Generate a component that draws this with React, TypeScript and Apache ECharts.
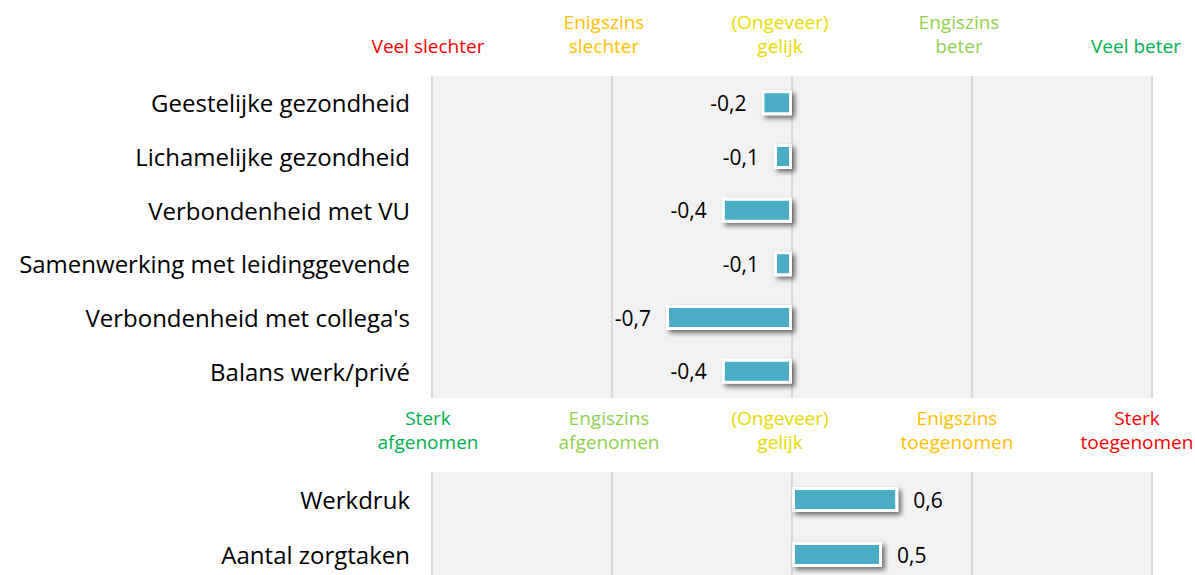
import React, { useEffect, useRef } from "react";
import * as echarts from "echarts";

const topCategories = [
  "Geestelijke gezondheid",
  "Lichamelijke gezondheid",
  "Verbondenheid met VU",
  "Samenwerking met leidinggevende",
  "Verbondenheid met collega's",
  "Balans werk/privé",
];
const topValues = [-0.17, -0.1, -0.39, -0.1, -0.7, -0.39];

const bottomCategories = ["Werkdruk", "Aantal zorgtaken"];
const bottomValues = [0.59, 0.5];

const topTickValues = [-2, -1, 0, 1, 2];
const topTickLabels = ["Veel slechter", "Enigszins\nslechter", "(Ongeveer)\ngelijk", "Engiszins\nbeter", "Veel beter"];
const topTickColors = ["#FF0000", "#FFC000", "#E6DC00", "#92D050", "#00B050"];
const topTickShift = [4, 8, 12, 13, 16];

const bottomTickLabels = ["Sterk\nafgenomen", "Engiszins\nafgenomen", "(Ongeveer)\ngelijk", "Enigszins\ntoegenomen", "Sterk\ntoegenomen"];
const bottomTickColors = ["#00B050", "#92D050", "#E6DC00", "#FFC000", "#FF0000"];
const bottomTickShift = [4, 3, 12, 15, 15];

const FONT = "'Open Sans', 'Noto Sans', sans-serif";

function makeAxisLabel(labels: string[], colors: string[], shifts: number[]) {
  const rich: Record<string, any> = {};
  labels.forEach((_, i) => {
    rich["t" + i] = {
      color: colors[i],
      fontSize: 19,
      lineHeight: 24,
      fontFamily: FONT,
      align: "center",
      padding: [0, shifts[i] * 2, 0, 0],
    };
  });
  return {
    show: true,
    margin: 18,
    fontFamily: FONT,
    fontSize: 19,
    lineHeight: 24,
    formatter: (v: number) => {
      const i = topTickValues.indexOf(v);
      if (i < 0) return "";
      return labels[i]
        .split("\n")
        .map((s) => "{t" + i + "|" + s + "}")
        .join("\n");
    },
    rich,
  };
}

const fmt = (v: number) => v.toFixed(1).replace(".", ",");

export default function App() {
  const ref = useRef<HTMLDivElement>(null);
  useEffect(() => {
    if (!ref.current) return;
    const chart = echarts.init(ref.current, null, { renderer: "svg" });
    const barStyle = {
      color: "#4BACC6",
      borderColor: "#FFFFFF",
      borderWidth: 3,
      shadowBlur: 5,
      shadowColor: "rgba(0,0,0,0.55)",
      shadowOffsetX: 3,
      shadowOffsetY: 3,
    };
    const xCommon = {
      type: "value" as const,
      min: -2,
      max: 2,
      interval: 1,
      position: "top" as const,
      axisLine: { show: false },
      axisTick: { show: false },
      splitLine: { show: true, lineStyle: { color: "#D9D9D9", width: 2 } },
    };
    const yCommon = {
      type: "category" as const,
      inverse: true,
      axisLine: { show: false },
      axisTick: { show: false },
      splitLine: { show: false },
      axisLabel: { color: "#000", fontSize: 24, fontFamily: FONT, margin: 22 },
    };
    const gridCommon = {
      left: 432,
      width: 720,
      show: true,
      backgroundColor: "#F2F2F2",
      borderWidth: 0,
      containLabel: false,
      outerBoundsMode: "none",
    };
    chart.setOption({
      animation: false,
      grid: [
        { ...gridCommon, top: 76, height: 322 },
        { ...gridCommon, top: 472, height: 110 },
      ],
      xAxis: [
        { ...xCommon, gridIndex: 0, axisLabel: makeAxisLabel(topTickLabels, topTickColors, topTickShift) },
        { ...xCommon, gridIndex: 1, axisLabel: makeAxisLabel(bottomTickLabels, bottomTickColors, bottomTickShift) },
      ],
      yAxis: [
        { ...yCommon, gridIndex: 0, data: topCategories },
        { ...yCommon, gridIndex: 1, data: bottomCategories },
      ],
      series: [
        {
          type: "bar",
          xAxisIndex: 0,
          yAxisIndex: 0,
          data: topValues,
          barWidth: 25,
          itemStyle: barStyle,
          label: {
            show: true,
            position: "left",
            distance: 15,
            color: "#000",
            fontSize: 21,
            fontFamily: FONT,
            formatter: (p: any) => fmt(p.value),
          },
        },
        {
          type: "bar",
          xAxisIndex: 1,
          yAxisIndex: 1,
          data: bottomValues,
          barWidth: 25,
          itemStyle: barStyle,
          label: {
            show: true,
            position: "right",
            distance: 15,
            color: "#000",
            fontSize: 21,
            fontFamily: FONT,
            formatter: (p: any) => fmt(p.value),
          },
        },
      ],
    });
    return () => chart.dispose();
  }, []);
  return (
    <div
      ref={ref}
      style={{ position: "absolute", left: 0, top: 0, width: 1195, height: 575, background: "#fff" }}
    />
  );
}
